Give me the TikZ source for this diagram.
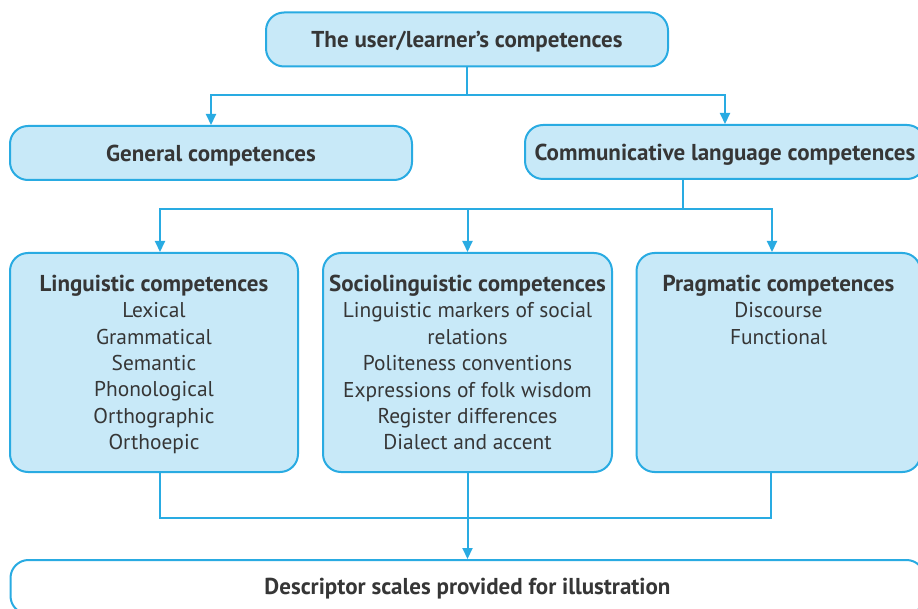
\documentclass[tikz,border=0pt]{standalone}
\usepackage{fontspec}
\setmainfont{PT Sans}
\usetikzlibrary{arrows.meta}
\definecolor{lineblue}{HTML}{29ABE2}
\definecolor{boxblue}{HTML}{C8E9F8}
\definecolor{textgray}{HTML}{363636}
\newcommand{\comphead}[1]{{\fontsize{23}{26.4}\selectfont\bfseries #1}}
\newcommand{\complist}[1]{\parbox[c][219pt][t]{284pt}{\centering\vspace*{22pt}#1}}
\begin{document}
\begin{tikzpicture}[x=1pt,y=-1pt,
  compbox/.style={draw=lineblue,line width=2pt,fill=boxblue,rounded corners=18pt,
    text=textgray,inner sep=0pt,font=\fontsize{21.4}{26.4}\selectfont},
  headbox/.style={compbox,font=\fontsize{23}{26}\selectfont\bfseries,minimum height=54pt,text depth=1pt},
  link/.style={draw=lineblue,line width=2pt},
  arrow/.style={link,-{Triangle[length=11pt,width=10pt]}}]
\useasboundingbox (0,0) rectangle (918,609);
\node[headbox,minimum width=402pt] (learner) at (467,39.5) {The user/learner's competences};
\node[headbox,minimum width=402pt,text depth=0pt] (general) at (211,153) {General competences};
\node[headbox,minimum width=400pt,text depth=0pt] (comm) at (725,152) {Communicative language competences};
\node[compbox,minimum width=288pt] (ling) at (154,362.5) {\complist{\comphead{Linguistic competences}\\
  Lexical\\ Grammatical\\ Semantic\\ Phonological\\ Orthographic\\ Orthoepic}};
\node[compbox,minimum width=289pt] (socio) at (467.5,362.5) {\complist{\comphead{Sociolinguistic competences}\\
  Linguistic markers of social\\ relations\\ Politeness conventions\\ Expressions of folk wisdom\\
  Register differences\\ Dialect and accent}};
\node[compbox,minimum width=283pt] (prag) at (778.5,362.5) {\complist{\comphead{Pragmatic competences}\\
  Discourse\\ Functional}};
\node[headbox,fill=white,minimum width=914pt] (desc) at (467.5,587) {Descriptor scales provided for illustration};
\draw[arrow] (learner.south) -- ++(0,28) -| (general.north);
\draw[arrow] (learner.south) -- ++(0,28) -| (comm.north);
\draw[arrow] ([xshift=-42pt]comm.south) -- ++(0,29) -| ([xshift=6pt]ling.north);
\draw[arrow] ([xshift=-42pt]comm.south) -- ++(0,29) -| (socio.north);
\draw[arrow] ([xshift=-42pt]comm.south) -- ++(0,29) -| ([xshift=-6.5pt]prag.north);
\draw[link] ([xshift=6pt]ling.south) -- ++(0,45) -| ([xshift=-7.5pt]prag.south);
\draw[arrow] (socio.south) -- (desc.north);
\end{tikzpicture}
\end{document}
